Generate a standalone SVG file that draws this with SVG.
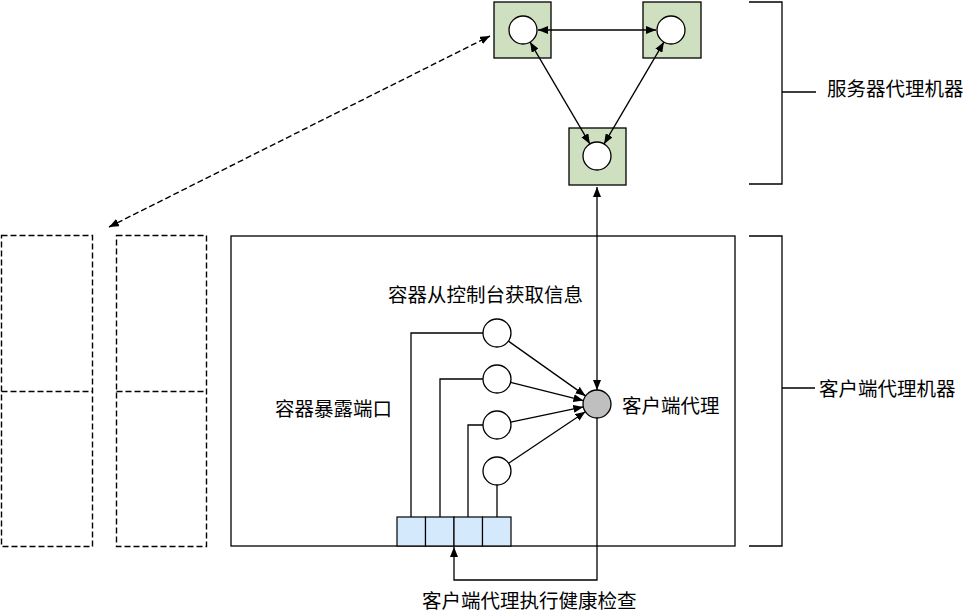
<svg xmlns="http://www.w3.org/2000/svg" width="966" height="616" viewBox="0 0 966 616">
<style>
  .ln{stroke:#000;stroke-width:1.3;fill:none}
  .dash{stroke:#000;stroke-width:1.4;fill:none;stroke-dasharray:6,3}
  .srv{fill:#cee0bf;stroke:#000;stroke-width:1.3}
  .circ{fill:#fff;stroke:#000;stroke-width:1.3}
  .port{fill:#d4e9fb;stroke:#000;stroke-width:1.2}
  .lbl{font-family:"Noto Sans CJK SC","Noto Sans",sans-serif;font-size:19.5px;fill:#000}
</style>
<defs>
  <marker id="ah" viewBox="0 0 10 8" refX="10" refY="4" markerWidth="10" markerHeight="8" markerUnits="userSpaceOnUse" orient="auto-start-reverse">
    <path d="M0,0 L10,4 L0,8 z" fill="#000"/>
  </marker>
</defs>
<rect width="966" height="616" fill="#fff"/>

<g id="server1"><rect class="srv" x="494" y="2" width="57" height="56"/><circle class="circ" cx="523" cy="30" r="14"/></g>
<g id="server2"><rect class="srv" x="643" y="2" width="58" height="56"/><circle class="circ" cx="671" cy="30" r="14"/></g>
<g id="server3"><rect class="srv" x="569" y="128" width="57" height="57"/><circle class="circ" cx="597" cy="156" r="14"/></g>

<g id="server-bracket">
  <path class="ln" d="M749,2 H782 V184 H749 M782,92 H816"/>
  <text class="lbl" x="827" y="96">服务器代理机器</text>
</g>
<g id="client-bracket">
  <path class="ln" d="M749,236 H782 V546 H749 M782,388 H815"/>
  <text class="lbl" x="819" y="396">客户端代理机器</text>
</g>

<g id="left-machines">
  <rect class="dash" x="1.5" y="235.5" width="91" height="311"/>
  <line class="dash" x1="1.5" y1="391.5" x2="92.5" y2="391.5"/>
  <rect class="dash" x="116.5" y="235.5" width="90" height="311"/>
  <line class="dash" x1="116.5" y1="391.5" x2="206.5" y2="391.5"/>
</g>

<g id="client-machine">
  <rect class="ln" x="231" y="236" width="504" height="310"/>
  <text class="lbl" x="388" y="302">容器从控制台获取信息</text>
  <text class="lbl" x="275" y="416">容器暴露端口</text>
  <text class="lbl" x="622" y="413">客户端代理</text>
</g>

<g id="containers">
  <circle class="circ" cx="497" cy="333" r="14"/>
  <circle class="circ" cx="497" cy="379" r="14"/>
  <circle class="circ" cx="497" cy="425" r="14"/>
  <circle class="circ" cx="497" cy="471" r="14"/>
</g>
<g id="client-agent"><circle cx="597" cy="404" r="14" fill="#bfbfbf" stroke="#000" stroke-width="1.3"/></g>
<g id="ports">
  <rect class="port" x="397" y="517" width="28.5" height="29"/>
  <rect class="port" x="425.5" y="517" width="28.5" height="29"/>
  <rect class="port" x="454" y="517" width="28.5" height="29"/>
  <rect class="port" x="482.5" y="517" width="28.5" height="29"/>
</g>

<g id="connectors">
  <line class="ln" x1="538" y1="30" x2="656" y2="30" marker-start="url(#ah)" marker-end="url(#ah)"/>
  <line class="ln" x1="530.1" y1="42.1" x2="589.9" y2="143.9" marker-start="url(#ah)" marker-end="url(#ah)"/>
  <line class="ln" x1="663.9" y1="42.1" x2="604.1" y2="143.9" marker-start="url(#ah)" marker-end="url(#ah)"/>
  <line class="ln" x1="597" y1="187" x2="597" y2="390" marker-start="url(#ah)" marker-end="url(#ah)"/>
  <line class="dash" x1="109" y1="227" x2="490" y2="36" marker-start="url(#ah)" marker-end="url(#ah)"/>
  <line class="ln" x1="508.4" y1="341.1" x2="585.6" y2="395.9" marker-end="url(#ah)"/>
  <line class="ln" x1="510.6" y1="382.4" x2="583.4" y2="400.6" marker-end="url(#ah)"/>
  <line class="ln" x1="510.7" y1="422.1" x2="583.3" y2="406.9" marker-end="url(#ah)"/>
  <line class="ln" x1="508.6" y1="463.2" x2="585.4" y2="411.8" marker-end="url(#ah)"/>
  <path class="ln" d="M483,333 H411 V517"/>
  <path class="ln" d="M483,379 H440 V517"/>
  <path class="ln" d="M483,425 H468 V517"/>
  <path class="ln" d="M497,485 V517"/>
  <path class="ln" d="M597,418 V580 H454 V547" marker-end="url(#ah)"/>
</g>
<text class="lbl" x="422" y="608">客户端代理执行健康检查</text>
</svg>
